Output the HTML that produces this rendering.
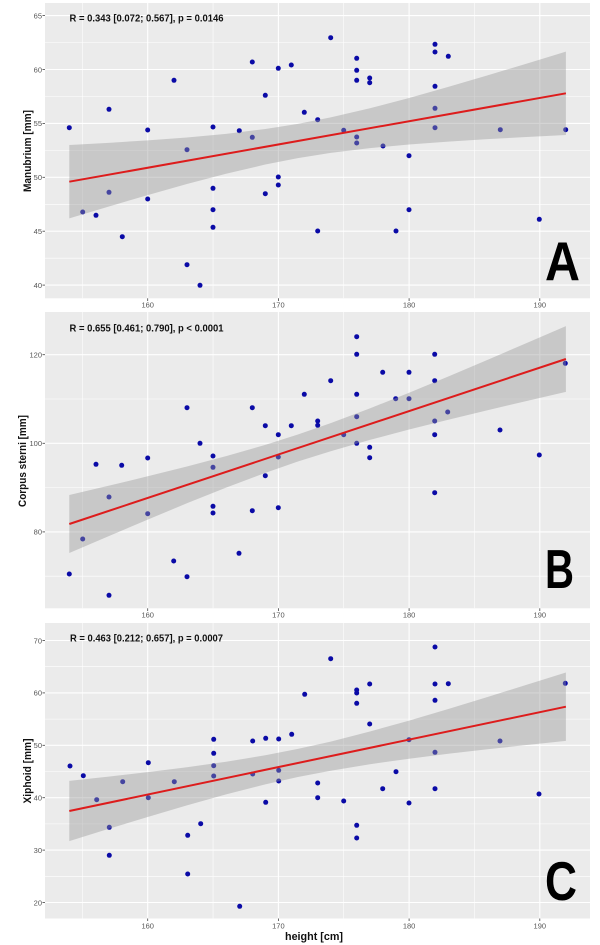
<!DOCTYPE html>
<html><head><meta charset="utf-8"><style>
html,body{margin:0;padding:0;background:#fff;}
svg{display:block;}
text{font-family:"Liberation Sans",Arial,sans-serif;}
.tk{font-size:7.5px;fill:#555;}
.ann{font-size:10.5px;font-weight:bold;fill:#111;}
.yl{font-size:11px;font-weight:bold;fill:#111;}
.big{font-size:55px;font-weight:bold;fill:#000;}
</style></head><body>
<svg width="600" height="945" viewBox="0 0 600 945" xmlns="http://www.w3.org/2000/svg">
<rect width="600" height="945" fill="#fff"/>

<!-- ================= PANEL A ================= -->
<rect x="45" y="3" width="545" height="295.3" fill="#ebebeb"/>
<g stroke="#fff" stroke-width="0.55">
<line x1="82.35" y1="3" x2="82.35" y2="298.3"/><line x1="213.05" y1="3" x2="213.05" y2="298.3"/><line x1="343.75" y1="3" x2="343.75" y2="298.3"/><line x1="474.45" y1="3" x2="474.45" y2="298.3"/>
<line x1="45" y1="42.6" x2="590" y2="42.6"/><line x1="45" y1="96.5" x2="590" y2="96.5"/><line x1="45" y1="150.4" x2="590" y2="150.4"/><line x1="45" y1="204.3" x2="590" y2="204.3"/><line x1="45" y1="258.2" x2="590" y2="258.2"/>
</g>
<g stroke="#fff" stroke-width="1.1">
<line x1="147.7" y1="3" x2="147.7" y2="298.3"/><line x1="278.4" y1="3" x2="278.4" y2="298.3"/><line x1="409.1" y1="3" x2="409.1" y2="298.3"/><line x1="539.8" y1="3" x2="539.8" y2="298.3"/>
<line x1="45" y1="15.6" x2="590" y2="15.6"/><line x1="45" y1="69.5" x2="590" y2="69.5"/><line x1="45" y1="123.4" x2="590" y2="123.4"/><line x1="45" y1="177.3" x2="590" y2="177.3"/><line x1="45" y1="231.2" x2="590" y2="231.2"/><line x1="45" y1="285.1" x2="590" y2="285.1"/>
</g>
<g fill="#0a0aa6">
<circle cx="69.3" cy="127.7" r="2.5"/><circle cx="82.7" cy="212" r="2.5"/><circle cx="96" cy="215.3" r="2.5"/><circle cx="109" cy="109.3" r="2.5"/><circle cx="109" cy="192.3" r="2.5"/><circle cx="122.3" cy="236.7" r="2.5"/><circle cx="147.7" cy="130" r="2.5"/><circle cx="147.7" cy="199" r="2.5"/><circle cx="174" cy="80.3" r="2.5"/><circle cx="187" cy="149.7" r="2.5"/><circle cx="187" cy="264.7" r="2.5"/><circle cx="200" cy="285.3" r="2.5"/><circle cx="213" cy="127" r="2.5"/><circle cx="213" cy="188.3" r="2.5"/><circle cx="213" cy="209.7" r="2.5"/><circle cx="213" cy="227.3" r="2.5"/><circle cx="239.3" cy="130.7" r="2.5"/><circle cx="252.3" cy="62" r="2.5"/><circle cx="252.3" cy="137.3" r="2.5"/><circle cx="265.3" cy="95.3" r="2.5"/><circle cx="265.3" cy="193.7" r="2.5"/><circle cx="278.3" cy="68.3" r="2.5"/><circle cx="278.3" cy="177" r="2.5"/><circle cx="278.3" cy="185" r="2.5"/><circle cx="291.3" cy="65" r="2.5"/>
<circle cx="304.3" cy="112.3" r="2.5"/><circle cx="317.7" cy="119.7" r="2.5"/><circle cx="317.7" cy="231" r="2.5"/><circle cx="330.7" cy="37.7" r="2.5"/><circle cx="343.7" cy="130.3" r="2.5"/><circle cx="356.7" cy="58.3" r="2.5"/><circle cx="356.7" cy="70.3" r="2.5"/><circle cx="356.7" cy="80.3" r="2.5"/><circle cx="356.7" cy="137" r="2.5"/><circle cx="356.7" cy="143" r="2.5"/><circle cx="369.7" cy="78" r="2.5"/><circle cx="369.7" cy="82.7" r="2.5"/><circle cx="383" cy="146" r="2.5"/><circle cx="409" cy="155.7" r="2.5"/><circle cx="409" cy="209.7" r="2.5"/><circle cx="396" cy="231" r="2.5"/><circle cx="435" cy="44.3" r="2.5"/><circle cx="435" cy="52" r="2.5"/><circle cx="435" cy="86.3" r="2.5"/><circle cx="435" cy="108.3" r="2.5"/><circle cx="435" cy="127.7" r="2.5"/><circle cx="448.3" cy="56.3" r="2.5"/><circle cx="500.3" cy="129.7" r="2.5"/><circle cx="539.3" cy="219.3" r="2.5"/><circle cx="565.7" cy="129.7" r="2.5"/>
</g>
<polygon fill="#999" fill-opacity="0.42" points="69.3,144.99 108.5,142.83 147.7,140.38 186.9,137.48 226.1,133.84 265.3,129.05 297.9,123.85 330.7,117.42 369.9,108.25 409.1,97.94 448.3,86.88 487.5,75.37 526.7,63.57 565.9,51.6 565.9,135.0 526.7,136.99 487.5,139.15 448.3,141.6 409.1,144.5 369.9,148.13 330.7,152.92 297.9,158.13 265.3,164.55 226.1,173.72 186.9,184.04 147.7,195.1 108.5,206.61 69.3,218.41"/>
<line x1="69.3" y1="181.7" x2="565.9" y2="93.3" stroke="#dd1c1c" stroke-width="2"/>
<text class="ann" x="69.5" y="21.5" textLength="154" lengthAdjust="spacingAndGlyphs">R = 0.343 [0.072; 0.567], p = 0.0146</text>
<g stroke="#444" stroke-width="0.8">
<line x1="42.5" y1="15.6" x2="45" y2="15.6"/><line x1="42.5" y1="69.5" x2="45" y2="69.5"/><line x1="42.5" y1="123.4" x2="45" y2="123.4"/><line x1="42.5" y1="177.3" x2="45" y2="177.3"/><line x1="42.5" y1="231.2" x2="45" y2="231.2"/><line x1="42.5" y1="285.1" x2="45" y2="285.1"/>
<line x1="147.7" y1="298.3" x2="147.7" y2="301"/><line x1="278.4" y1="298.3" x2="278.4" y2="301"/><line x1="409.1" y1="298.3" x2="409.1" y2="301"/><line x1="539.8" y1="298.3" x2="539.8" y2="301"/>
</g>
<g class="tk" text-anchor="end">
<text x="42" y="18.4">65</text><text x="42" y="72.3">60</text><text x="42" y="126.2">55</text><text x="42" y="180.1">50</text><text x="42" y="234">45</text><text x="42" y="287.9">40</text>
</g>
<g class="tk" text-anchor="middle">
<text x="147.7" y="307.5">160</text><text x="278.4" y="307.5">170</text><text x="409.1" y="307.5">180</text><text x="539.8" y="307.5">190</text>
</g>
<text class="yl" x="31" y="151" text-anchor="middle" transform="rotate(-90 31 151)" textLength="82" lengthAdjust="spacingAndGlyphs">Manubrium [mm]</text>
<text class="big" x="545" y="280" textLength="35" lengthAdjust="spacingAndGlyphs">A</text>

<!-- ================= PANEL B ================= -->
<rect x="45" y="312" width="545" height="296.3" fill="#ebebeb"/>
<g stroke="#fff" stroke-width="0.55">
<line x1="82.35" y1="312" x2="82.35" y2="608.3"/><line x1="213.05" y1="312" x2="213.05" y2="608.3"/><line x1="343.75" y1="312" x2="343.75" y2="608.3"/><line x1="474.45" y1="312" x2="474.45" y2="608.3"/>
<line x1="45" y1="399" x2="590" y2="399"/><line x1="45" y1="487.6" x2="590" y2="487.6"/><line x1="45" y1="576.2" x2="590" y2="576.2"/>
</g>
<g stroke="#fff" stroke-width="1.1">
<line x1="147.7" y1="312" x2="147.7" y2="608.3"/><line x1="278.4" y1="312" x2="278.4" y2="608.3"/><line x1="409.1" y1="312" x2="409.1" y2="608.3"/><line x1="539.8" y1="312" x2="539.8" y2="608.3"/>
<line x1="45" y1="354.7" x2="590" y2="354.7"/><line x1="45" y1="443.3" x2="590" y2="443.3"/><line x1="45" y1="531.9" x2="590" y2="531.9"/>
</g>
<g fill="#0a0aa6">
<circle cx="69.3" cy="574" r="2.5"/><circle cx="82.7" cy="539" r="2.5"/><circle cx="96" cy="464.3" r="2.5"/><circle cx="109" cy="497" r="2.5"/><circle cx="109" cy="595.3" r="2.5"/><circle cx="121.7" cy="465.3" r="2.5"/><circle cx="147.7" cy="458" r="2.5"/><circle cx="147.7" cy="513.7" r="2.5"/><circle cx="173.7" cy="561" r="2.5"/><circle cx="187" cy="407.7" r="2.5"/><circle cx="187" cy="576.7" r="2.5"/><circle cx="200" cy="443.3" r="2.5"/><circle cx="213" cy="456" r="2.5"/><circle cx="213" cy="467.3" r="2.5"/><circle cx="213" cy="506.3" r="2.5"/><circle cx="213" cy="513" r="2.5"/><circle cx="239" cy="553.3" r="2.5"/><circle cx="252.3" cy="407.7" r="2.5"/><circle cx="252.3" cy="510.7" r="2.5"/><circle cx="265.3" cy="425.7" r="2.5"/><circle cx="265.3" cy="475.7" r="2.5"/><circle cx="278.3" cy="434.7" r="2.5"/><circle cx="278.3" cy="457" r="2.5"/><circle cx="278.3" cy="507.7" r="2.5"/><circle cx="291.3" cy="425.7" r="2.5"/>
<circle cx="304.3" cy="394.3" r="2.5"/><circle cx="330.7" cy="380.7" r="2.5"/><circle cx="317.7" cy="421" r="2.5"/><circle cx="317.7" cy="425.3" r="2.5"/><circle cx="343.7" cy="434.7" r="2.5"/><circle cx="356.7" cy="336.7" r="2.5"/><circle cx="356.7" cy="354.3" r="2.5"/><circle cx="356.7" cy="394.3" r="2.5"/><circle cx="356.7" cy="416.7" r="2.5"/><circle cx="356.7" cy="443.3" r="2.5"/><circle cx="369.7" cy="447.3" r="2.5"/><circle cx="369.7" cy="457.7" r="2.5"/><circle cx="382.7" cy="372.3" r="2.5"/><circle cx="395.7" cy="398.7" r="2.5"/><circle cx="409" cy="372.3" r="2.5"/><circle cx="409" cy="398.7" r="2.5"/><circle cx="434.7" cy="354.3" r="2.5"/><circle cx="434.7" cy="380.7" r="2.5"/><circle cx="434.7" cy="421" r="2.5"/><circle cx="434.7" cy="434.7" r="2.5"/><circle cx="434.7" cy="492.7" r="2.5"/><circle cx="447.7" cy="412" r="2.5"/><circle cx="500" cy="430" r="2.5"/><circle cx="539.3" cy="455" r="2.5"/><circle cx="565.3" cy="363.3" r="2.5"/>
</g>
<polygon fill="#999" fill-opacity="0.42" points="69.3,495.0 108.5,485.8 147.7,476.3 186.9,466.5 226.1,456.1 265.3,444.9 297.9,434.5 330.7,423.1 369.9,408.4 409.1,392.7 448.3,376.5 487.5,359.9 526.7,343.0 565.9,326.1 565.9,391.9 526.7,401.0 487.5,410.2 448.3,419.7 409.1,429.5 369.9,439.9 330.7,451.2 297.9,461.5 265.3,472.9 226.1,487.6 186.9,503.3 147.7,519.6 108.5,536.2 69.3,553.0"/>
<line x1="69.3" y1="524" x2="565.9" y2="359" stroke="#dd1c1c" stroke-width="2"/>
<text class="ann" x="69.5" y="331.5" textLength="154" lengthAdjust="spacingAndGlyphs">R = 0.655 [0.461; 0.790], p &lt; 0.0001</text>
<g stroke="#444" stroke-width="0.8">
<line x1="42.5" y1="354.7" x2="45" y2="354.7"/><line x1="42.5" y1="443.3" x2="45" y2="443.3"/><line x1="42.5" y1="531.9" x2="45" y2="531.9"/>
<line x1="147.7" y1="608.3" x2="147.7" y2="611"/><line x1="278.4" y1="608.3" x2="278.4" y2="611"/><line x1="409.1" y1="608.3" x2="409.1" y2="611"/><line x1="539.8" y1="608.3" x2="539.8" y2="611"/>
</g>
<g class="tk" text-anchor="end">
<text x="42" y="357.5">120</text><text x="42" y="446.1">100</text><text x="42" y="534.7">80</text>
</g>
<g class="tk" text-anchor="middle">
<text x="147.7" y="617.3">160</text><text x="278.4" y="617.3">170</text><text x="409.1" y="617.3">180</text><text x="539.8" y="617.3">190</text>
</g>
<text class="yl" x="26" y="461" text-anchor="middle" transform="rotate(-90 26 461)" textLength="92" lengthAdjust="spacingAndGlyphs">Corpus sterni [mm]</text>
<text class="big" x="545" y="588" textLength="29" lengthAdjust="spacingAndGlyphs">B</text>

<!-- ================= PANEL C ================= -->
<rect x="45" y="623" width="545" height="295.5" fill="#ebebeb"/>
<g stroke="#fff" stroke-width="0.55">
<line x1="82.35" y1="623" x2="82.35" y2="918.5"/><line x1="213.05" y1="623" x2="213.05" y2="918.5"/><line x1="343.75" y1="623" x2="343.75" y2="918.5"/><line x1="474.45" y1="623" x2="474.45" y2="918.5"/>
<line x1="45" y1="666.7" x2="590" y2="666.7"/><line x1="45" y1="719.1" x2="590" y2="719.1"/><line x1="45" y1="771.5" x2="590" y2="771.5"/><line x1="45" y1="823.9" x2="590" y2="823.9"/><line x1="45" y1="876.3" x2="590" y2="876.3"/>
</g>
<g stroke="#fff" stroke-width="1.1">
<line x1="147.7" y1="623" x2="147.7" y2="918.5"/><line x1="278.4" y1="623" x2="278.4" y2="918.5"/><line x1="409.1" y1="623" x2="409.1" y2="918.5"/><line x1="539.8" y1="623" x2="539.8" y2="918.5"/>
<line x1="45" y1="640.5" x2="590" y2="640.5"/><line x1="45" y1="692.9" x2="590" y2="692.9"/><line x1="45" y1="745.3" x2="590" y2="745.3"/><line x1="45" y1="797.7" x2="590" y2="797.7"/><line x1="45" y1="850.1" x2="590" y2="850.1"/><line x1="45" y1="902.5" x2="590" y2="902.5"/>
</g>
<g fill="#0a0aa6">
<circle cx="70" cy="766" r="2.5"/><circle cx="83.3" cy="775.7" r="2.5"/><circle cx="96.7" cy="799.7" r="2.5"/><circle cx="109.3" cy="827.3" r="2.5"/><circle cx="109.3" cy="855.3" r="2.5"/><circle cx="122.7" cy="781.7" r="2.5"/><circle cx="148.3" cy="762.7" r="2.5"/><circle cx="148.3" cy="797.7" r="2.5"/><circle cx="174.3" cy="781.7" r="2.5"/><circle cx="187.7" cy="835.3" r="2.5"/><circle cx="187.7" cy="874" r="2.5"/><circle cx="200.7" cy="823.7" r="2.5"/><circle cx="213.7" cy="739.3" r="2.5"/><circle cx="213.7" cy="753.3" r="2.5"/><circle cx="213.7" cy="765.7" r="2.5"/><circle cx="213.7" cy="776" r="2.5"/><circle cx="239.7" cy="906.3" r="2.5"/><circle cx="252.7" cy="741" r="2.5"/><circle cx="252.7" cy="774" r="2.5"/><circle cx="265.7" cy="738.3" r="2.5"/><circle cx="265.7" cy="802.3" r="2.5"/><circle cx="278.7" cy="739" r="2.5"/><circle cx="278.7" cy="770.3" r="2.5"/><circle cx="278.7" cy="781" r="2.5"/><circle cx="291.7" cy="734.3" r="2.5"/>
<circle cx="304.7" cy="694.3" r="2.5"/><circle cx="330.7" cy="658.7" r="2.5"/><circle cx="317.7" cy="783" r="2.5"/><circle cx="317.7" cy="797.7" r="2.5"/><circle cx="343.7" cy="801" r="2.5"/><circle cx="356.7" cy="690" r="2.5"/><circle cx="356.7" cy="693" r="2.5"/><circle cx="356.7" cy="703.3" r="2.5"/><circle cx="356.7" cy="825.3" r="2.5"/><circle cx="356.7" cy="838" r="2.5"/><circle cx="369.7" cy="684" r="2.5"/><circle cx="369.7" cy="724" r="2.5"/><circle cx="382.7" cy="788.7" r="2.5"/><circle cx="396" cy="771.7" r="2.5"/><circle cx="409" cy="739.7" r="2.5"/><circle cx="409" cy="803" r="2.5"/><circle cx="435" cy="647" r="2.5"/><circle cx="435" cy="684" r="2.5"/><circle cx="435" cy="700.3" r="2.5"/><circle cx="435" cy="752.3" r="2.5"/><circle cx="435" cy="788.7" r="2.5"/><circle cx="448.3" cy="683.7" r="2.5"/><circle cx="500" cy="741" r="2.5"/><circle cx="539" cy="794" r="2.5"/><circle cx="565.3" cy="683.3" r="2.5"/>
</g>
<polygon fill="#999" fill-opacity="0.42" points="69.3,780.9 108.5,776.6 147.7,772.1 186.9,767.2 226.1,761.7 265.3,755.3 297.9,748.9 330.7,741.6 369.9,731.5 409.1,720.6 448.3,709.0 487.5,697.0 526.7,684.8 565.9,672.5 565.9,740.9 526.7,745.0 487.5,749.3 448.3,753.8 409.1,758.7 369.9,764.2 330.7,770.7 297.9,777.0 265.3,784.4 226.1,794.4 186.9,805.4 147.7,817.0 108.5,828.9 69.3,841.1"/>
<line x1="69.3" y1="811" x2="565.9" y2="706.7" stroke="#dd1c1c" stroke-width="2"/>
<text class="ann" x="70" y="641.5" textLength="153" lengthAdjust="spacingAndGlyphs">R = 0.463 [0.212; 0.657], p = 0.0007</text>
<g stroke="#444" stroke-width="0.8">
<line x1="42.5" y1="640.5" x2="45" y2="640.5"/><line x1="42.5" y1="692.9" x2="45" y2="692.9"/><line x1="42.5" y1="745.3" x2="45" y2="745.3"/><line x1="42.5" y1="797.7" x2="45" y2="797.7"/><line x1="42.5" y1="850.1" x2="45" y2="850.1"/><line x1="42.5" y1="902.5" x2="45" y2="902.5"/>
<line x1="147.7" y1="918.5" x2="147.7" y2="921"/><line x1="278.4" y1="918.5" x2="278.4" y2="921"/><line x1="409.1" y1="918.5" x2="409.1" y2="921"/><line x1="539.8" y1="918.5" x2="539.8" y2="921"/>
</g>
<g class="tk" text-anchor="end">
<text x="42" y="643.3">70</text><text x="42" y="695.7">60</text><text x="42" y="748.1">50</text><text x="42" y="800.5">40</text><text x="42" y="852.9">30</text><text x="42" y="905.3">20</text>
</g>
<g class="tk" text-anchor="middle">
<text x="147.7" y="928.3">160</text><text x="278.4" y="928.3">170</text><text x="409.1" y="928.3">180</text><text x="539.8" y="928.3">190</text>
</g>
<text class="yl" x="31" y="771" text-anchor="middle" transform="rotate(-90 31 771)" textLength="65" lengthAdjust="spacingAndGlyphs">Xiphoid [mm]</text>
<text class="big" x="545" y="900" font-size="52" textLength="32" lengthAdjust="spacingAndGlyphs">C</text>

<text class="yl" x="285" y="940" textLength="58" lengthAdjust="spacingAndGlyphs">height [cm]</text>
</svg>
</body></html>
